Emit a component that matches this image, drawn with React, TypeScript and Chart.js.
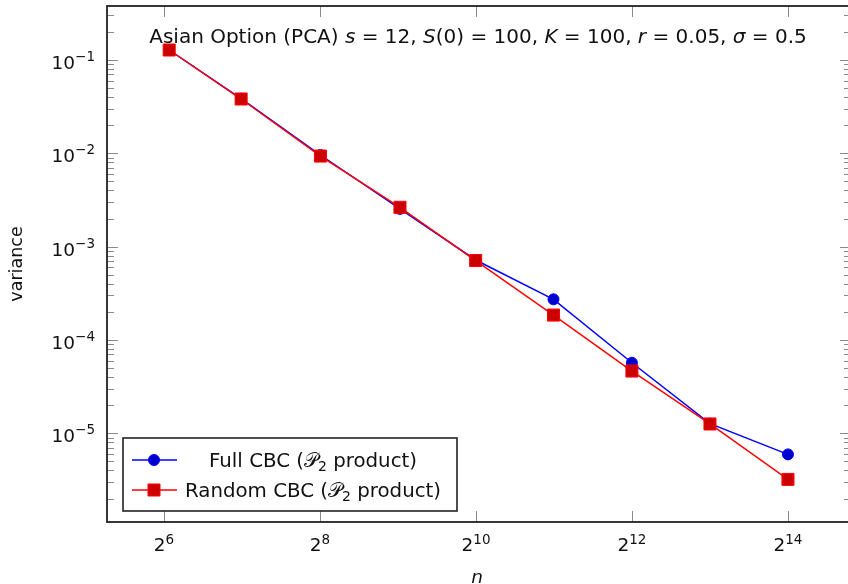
import React, { useEffect, useRef } from 'react';
import { Chart, registerables } from 'chart.js';

Chart.register(...registerables);

// ---- data ----
const nValues = [67, 127, 257, 521, 1021, 2039, 4093, 8191, 16381];
const fullCBC = [0.128, 0.0385, 0.0096, 0.00254, 0.00072, 0.000273, 5.7e-5, 1.27e-5, 5.95e-6];
const randomCBC = [0.128, 0.0382, 0.00935, 0.00264, 0.00071, 0.000185, 4.65e-5, 1.26e-5, 3.21e-6];
const xTickExponents = [6, 8, 10, 12, 14];
const yTickExponents = [-1, -2, -3, -4, -5];
const seriesNames = ['Full CBC', 'Random CBC'];
const yAxisTitle = 'variance';
const xAxisTitle = 'n';

const FONT = '"DejaVu Sans", "Liberation Sans", sans-serif';
const MATHFONT = '"DejaVu Sans", "Liberation Sans", sans-serif';
const BASE = 18.5;

type Seg = { t: string; italic?: boolean; size?: number; dy?: number; family?: string };

function segFont(s: Seg, base: number) {
  const size = s.size ?? base;
  return `${s.italic ? 'italic ' : ''}${size}px ${s.family ?? FONT}`;
}

function measureSegs(ctx: CanvasRenderingContext2D, segs: Seg[], base: number) {
  let w = 0;
  for (const s of segs) {
    ctx.font = segFont(s, base);
    w += ctx.measureText(s.t).width;
  }
  return w;
}

function drawSegs(ctx: CanvasRenderingContext2D, segs: Seg[], x: number, y: number, base: number, align: 'left' | 'center' | 'right') {
  const w = measureSegs(ctx, segs, base);
  let cx = align === 'left' ? x : align === 'center' ? x - w / 2 : x - w;
  ctx.textAlign = 'left';
  ctx.textBaseline = 'alphabetic';
  for (const s of segs) {
    ctx.font = segFont(s, base);
    ctx.fillText(s.t, cx, y + (s.dy ?? 0));
    cx += ctx.measureText(s.t).width;
  }
}

const titleSegs: Seg[] = [
  { t: 'Asian Option (PCA) ' },
  { t: 's', italic: true },
  { t: ' = 12, ' },
  { t: 'S', italic: true },
  { t: '(0) = 100, ' },
  { t: 'K', italic: true },
  { t: ' = 100, ' },
  { t: 'r', italic: true },
  { t: ' = 0.05, ' },
  { t: 'σ', italic: true },
  { t: ' = 0.5' },
];

function legendSegs(name: string): Seg[] {
  return [
    { t: name + ' (' },
    { t: '𝒫', family: MATHFONT },
    { t: '2', size: 14, dy: 4 },
    { t: ' product)' },
  ];
}

const overlayPlugin = {
  id: 'overlay',
  afterDraw(chart: any) {
    const ctx: CanvasRenderingContext2D = chart.ctx;
    const a = chart.chartArea;
    const xs = chart.scales.x;
    const ys = chart.scales.y;
    ctx.save();

    // ticks
    ctx.strokeStyle = '#8a8a8a';
    ctx.lineWidth = 1;
    ctx.beginPath();
    for (const e of xTickExponents) {
      const px = Math.round(xs.getPixelForValue(Math.pow(2, e))) + 0.5;
      ctx.moveTo(px, a.bottom);
      ctx.lineTo(px, a.bottom - 11);
      ctx.moveTo(px, a.top);
      ctx.lineTo(px, a.top + 11);
    }
    for (let e = -7; e <= 0; e++) {
      for (let k = 1; k <= 9; k++) {
        const v = k * Math.pow(10, e);
        if (v < ys.min || v > ys.max) continue;
        const py = Math.round(ys.getPixelForValue(v)) + 0.5;
        const len = k === 1 ? 11 : 7;
        ctx.moveTo(a.left, py);
        ctx.lineTo(a.left + len, py);
        ctx.moveTo(a.right, py);
        ctx.lineTo(a.right - len, py);
      }
    }
    ctx.stroke();

    // axis box
    ctx.strokeStyle = '#222';
    ctx.lineWidth = 1.8;
    ctx.strokeRect(a.left, a.top, a.right - a.left, a.bottom - a.top);

    ctx.fillStyle = '#111';
    // x tick labels
    for (const e of xTickExponents) {
      const px = xs.getPixelForValue(Math.pow(2, e));
      drawSegs(ctx, [{ t: '2' }, { t: String(e), size: 13.5, dy: -7 }], px, a.bottom + 29, BASE, 'center');
    }
    // y tick labels
    for (const e of yTickExponents) {
      const py = ys.getPixelForValue(Math.pow(10, e));
      drawSegs(ctx, [{ t: '10' }, { t: '−' + String(-e), size: 13.5, dy: -8 }], 95, py + 9, BASE, 'right');
    }

    // title
    drawSegs(ctx, titleSegs, 478, 43, 20, 'center');

    // axis titles
    ctx.save();
    ctx.translate(22, (a.top + a.bottom) / 2);
    ctx.rotate(-Math.PI / 2);
    drawSegs(ctx, [{ t: yAxisTitle }], 0, 0, 17.5, 'center');
    ctx.restore();
    drawSegs(ctx, [{ t: xAxisTitle, italic: true }], 477, 583, BASE, 'center');

    // legend
    const lx = 123, ly = 438, lw = 334, lh = 73;
    ctx.fillStyle = '#fff';
    ctx.fillRect(lx, ly, lw, lh);
    ctx.strokeStyle = '#222';
    ctx.lineWidth = 1.6;
    ctx.strokeRect(lx, ly, lw, lh);
    const rows = [460, 490];
    chart.data.datasets.forEach((ds: any, i: number) => {
      const ry = rows[i];
      ctx.strokeStyle = ds.borderColor;
      ctx.lineWidth = 1.5;
      ctx.beginPath();
      ctx.moveTo(132, ry);
      ctx.lineTo(177, ry);
      ctx.stroke();
      ctx.fillStyle = ds.pointBackgroundColor;
      ctx.strokeStyle = ds.pointBorderColor;
      ctx.lineWidth = 1;
      ctx.beginPath();
      if (ds.pointStyle === 'rect') {
        ctx.rect(154 - 6, ry - 6, 12, 12);
      } else {
        ctx.arc(154, ry, 5.5, 0, Math.PI * 2);
      }
      ctx.fill();
      ctx.stroke();
      ctx.fillStyle = '#111';
      drawSegs(ctx, legendSegs(seriesNames[i]), 313, ry + 7, 19.8, 'center');
    });

    ctx.restore();
  },
};

export default function App() {
  const ref = useRef<HTMLCanvasElement | null>(null);
  useEffect(() => {
    if (!ref.current) return;
    const chart = new Chart(ref.current, {
      type: 'line',
      data: {
        datasets: [
          {
            label: seriesNames[0],
            data: nValues.map((n, i) => ({ x: n, y: fullCBC[i] })),
            borderColor: '#0000ff',
            backgroundColor: '#0000cc',
            pointBackgroundColor: '#0000cc',
            pointBorderColor: '#0000ff',
            pointStyle: 'circle',
            pointRadius: 5.5,
            pointBorderWidth: 1,
            borderWidth: 1.5,
            tension: 0,
            order: 2,
          },
          {
            label: seriesNames[1],
            data: nValues.map((n, i) => ({ x: n, y: randomCBC[i] })),
            borderColor: '#ff0000',
            backgroundColor: '#cc0000',
            pointBackgroundColor: '#cc0000',
            pointBorderColor: '#ff0000',
            pointStyle: 'rect',
            pointRadius: 8.5,
            pointBorderWidth: 1,
            borderWidth: 1.5,
            tension: 0,
            order: 1,
          },
        ],
      },
      options: {
        animation: false,
        responsive: false,
        devicePixelRatio: 1,
        layout: { autoPadding: false, padding: { left: 107, right: 5, top: 6, bottom: 62 } },
        plugins: { legend: { display: false }, tooltip: { enabled: false }, title: { display: false } },
        scales: {
          x: { type: 'logarithmic', min: Math.pow(2, 5.269), max: Math.pow(2, 14.808), display: false },
          y: { type: 'logarithmic', min: Math.pow(10, -5.95), max: Math.pow(10, -0.4214), display: false },
        },
      },
      plugins: [overlayPlugin],
    });
    return () => chart.destroy();
  }, []);
  return (
    <div style={{ position: 'absolute', left: 0, top: 0, width: 848, height: 584, overflow: 'hidden', background: '#fff' }}>
      <div style={{ position: 'relative', width: 856, height: 584 }}>
        <canvas ref={ref} width={856} height={584} style={{ display: 'block', width: 856, height: 584 }} />
      </div>
    </div>
  );
}
